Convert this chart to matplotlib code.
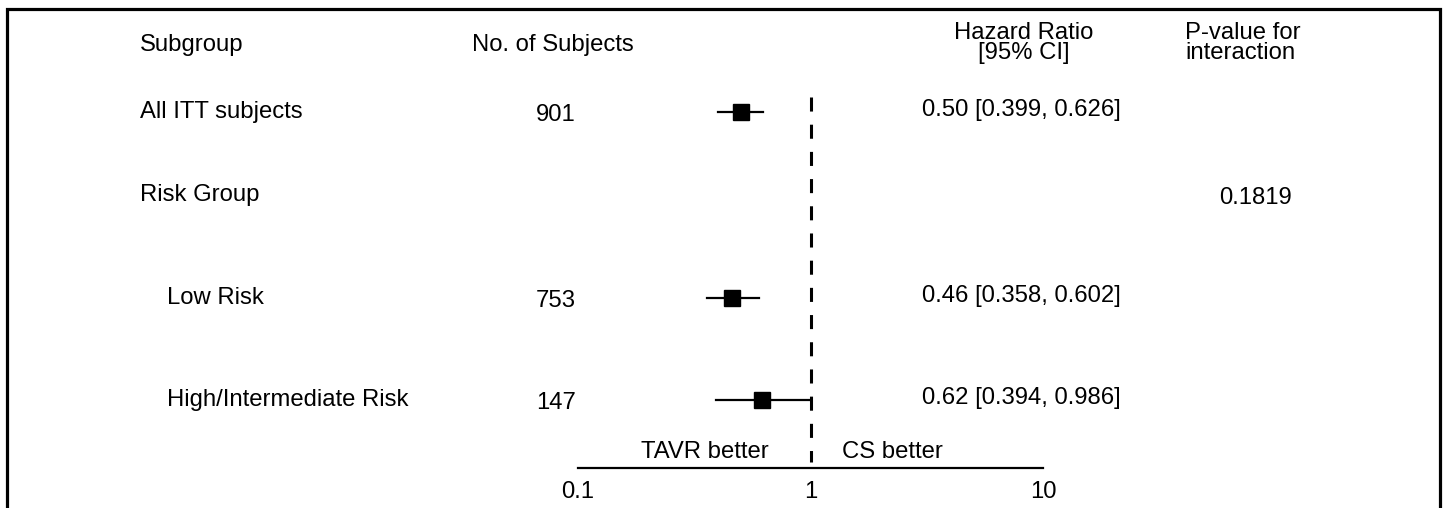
import numpy as np
import matplotlib
matplotlib.use('Agg')
import matplotlib.pyplot as plt

plt.rcParams['font.family'] = ['Liberation Sans', 'DejaVu Sans']

# ── data ────────────────────────────────────────────────────────────────────
subgroups = ['All ITT subjects', 'Risk Group', 'Low Risk', 'High/Intermediate Risk']
indented = [False, False, True, True]
n_subjects = ['901', '', '753', '147']
hr = [0.50, np.nan, 0.46, 0.62]
ci_low = [0.399, np.nan, 0.358, 0.394]
ci_high = [0.626, np.nan, 0.602, 0.986]
p_interaction = ['', '0.1819', '', '']
xticks = [0.1, 1, 10]
xtick_labels = ['0.1', '1', '10']

# ── layout (pixel units, y grows downwards) ─────────────────────────────────
W, H = 1447, 508
row_y = [112, 195, 298, 400]
fs = 17.2

fig = plt.figure(figsize=(W / 100, H / 100), dpi=100)
fig.patch.set_facecolor('white')

# text layer in pixel coordinates
tx = fig.add_axes([0, 0, 1, 1])
tx.set_xlim(0, W)
tx.set_ylim(H, 0)
tx.axis('off')

# frame (no bottom edge, it runs off the image)
tx.plot([7, 7, 1440, 1440], [H + 5, 9, 9, H + 5], color='black', lw=2.3,
        solid_joinstyle='miter', clip_on=False)

# headers
tx.text(140, 45, 'Subgroup', fontsize=fs, va='center', ha='left')
tx.text(472, 45, 'No. of Subjects', fontsize=fs, va='center', ha='left')
tx.text(1024, 43, 'Hazard Ratio\n[95% CI]', fontsize=fs, va='center', ha='center',
        linespacing=0.86)
tx.text(1185, 43, 'P-value for\ninteraction', fontsize=fs, va='center', ha='left',
        linespacing=0.86)

for i, name in enumerate(subgroups):
    y = row_y[i]
    tx.text(167 if indented[i] else 140, y, name, fontsize=fs, va='center', ha='left')
    if n_subjects[i]:
        tx.text(556, y + 3, n_subjects[i], fontsize=fs, va='center', ha='center')
    if not np.isnan(hr[i]):
        lab = f'{hr[i]:.2f} [{ci_low[i]:.3f}, {ci_high[i]:.3f}]'
        tx.text(1021, y - 2, lab, fontsize=fs, va='center', ha='center')
    if p_interaction[i]:
        tx.text(1255, y + 3, p_interaction[i], fontsize=fs, va='center', ha='center')

# ── forest panel (log scale) ────────────────────────────────────────────────
x0, x1 = 578, 1043
ax = fig.add_axes([x0 / W, 0, (x1 - x0) / W, 1])
ax.set_xscale('log')
ax.set_xlim(xticks[0], xticks[-1])
ax.set_ylim(H, 0)
ax.axis('off')
ax.patch.set_visible(False)

# reference line at HR = 1
ax.plot([1, 1], [97, 462], color='black', lw=2.2, linestyle=(0, (4.6, 4.3)),
        dash_capstyle='butt')

for i in range(len(subgroups)):
    if np.isnan(hr[i]):
        continue
    y = row_y[i]
    ax.plot([ci_low[i], ci_high[i]], [y, y], color='black', lw=1.6)
    ax.plot(hr[i], y, marker='s', color='black', markersize=11, linestyle='none')

# axis line and labels
ax.plot([xticks[0], xticks[-1]], [468, 468], color='black', lw=1.6, clip_on=False)
for t, lab in zip(xticks, xtick_labels):
    ax.text(t, 492, lab, fontsize=fs, ha='center', va='center')

ax.text(0.353, 452, 'TAVR better', fontsize=fs, ha='center', va='center')
ax.text(2.26, 452, 'CS better', fontsize=fs, ha='center', va='center')

plt.savefig('out.png', dpi=100)
plt.close()
